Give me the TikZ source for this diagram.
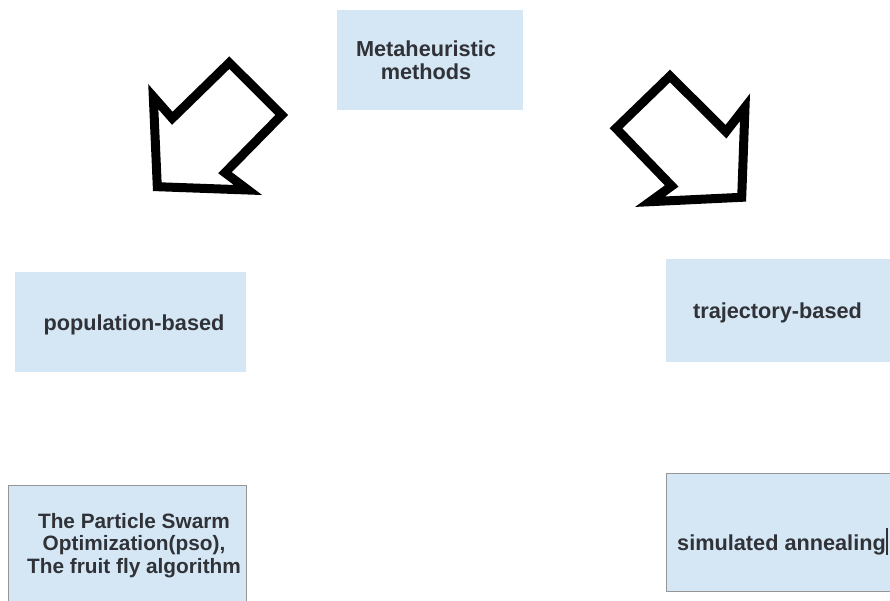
\documentclass[tikz,border=0pt]{standalone}
\usepackage{fontspec}
\setmainfont{Liberation Sans}
\begin{document}
\definecolor{boxfill}{RGB}{213,231,245}
\definecolor{boxline}{RGB}{150,150,150}
\definecolor{ink}{RGB}{48,50,56}
\begin{tikzpicture}[x=1pt,y=-1pt,
  box/.style={rectangle,fill=boxfill,inner sep=0pt},
  framedbox/.style={box,draw=boxline,line width=1pt},
  label text/.style={text=ink,font=\fontsize{21.7}{23}\selectfont\bfseries,align=center,inner sep=0pt},
  blockarrow/.style={draw=black,line width=9pt,line join=miter,fill=white}]
\useasboundingbox (0,0) rectangle (890,601);
\clip (0,0) rectangle (890,601);
\fill[white] (0,0) rectangle (890,601);

% category boxes
\node[box,minimum width=186pt,minimum height=100pt] (meta) at (430,60) {};
\node[box,minimum width=231pt,minimum height=100pt] (pop) at (130.5,322) {};
\node[box,minimum width=226pt,minimum height=103pt] (traj) at (779,310.5) {};
\node[framedbox,minimum width=238pt,minimum height=140pt] (pso) at (127,555) {};
\node[framedbox,minimum width=232pt,minimum height=118pt] (sa) at (782,532) {};

% box texts
\node[label text] (metatext) at (426,60) {Metaheuristic\\methods};
\node[label text] (poptext) at (134,325) {population-based};
\node[label text] (trajtext) at (777.5,312.5) {trajectory-based};
\node[label text,font=\fontsize{20.8}{22.8}\selectfont\bfseries] (psotext) at (134,545.5) {The Particle Swarm\\Optimization(pso),\\The fruit fly algorithm};
\node[label text,anchor=base west] (satext) at (677,550) {simulated annealing\hspace{0.6pt}\rule[-5pt]{1.3pt}{27pt}};

% block arrows
\draw[blockarrow] (229.3,62.7) -- (281.7,115) -- (225,172.7) -- (248,190)
  -- (157.3,186.7) -- (153.3,96.7) -- (172.3,118.3) -- cycle;
\draw[blockarrow] (616,128.3) -- (670,76) -- (726,131.7) -- (745,107.3)
  -- (741.7,197.3) -- (650,201.7) -- (671.7,186) -- cycle;
\end{tikzpicture}
\end{document}
